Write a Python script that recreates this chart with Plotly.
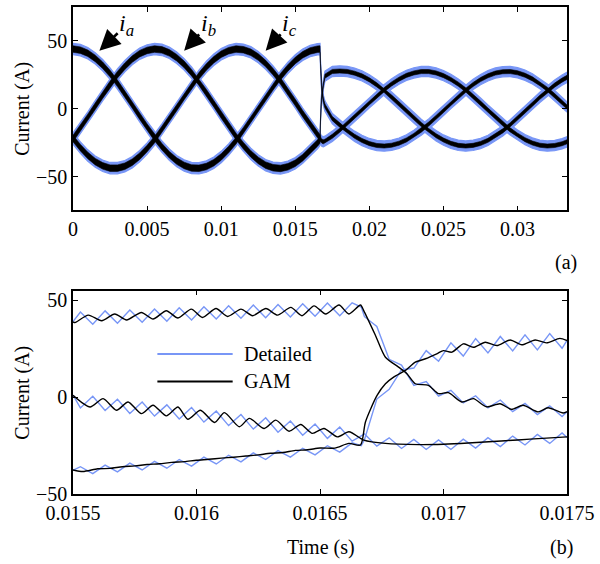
import plotly.graph_objects as go

# ---------------- (a) full view: band centres ----------------
t_top = [0, 0.0005, 0.001, 0.0015, 0.002, 0.0025, 0.003, 0.0035, 0.004, 0.0045,
         0.005, 0.0055, 0.006, 0.0065, 0.007, 0.0075, 0.008, 0.0085, 0.009, 0.0095,
         0.01, 0.0105, 0.011, 0.0115, 0.012, 0.0125, 0.013, 0.0135, 0.014, 0.0145,
         0.015, 0.0155, 0.016, 0.0165, 0.016667,
         0.0167, 0.01675, 0.0168, 0.0169, 0.017,
         0.0175, 0.018, 0.0185, 0.019, 0.0195, 0.02, 0.0205, 0.021, 0.0215, 0.022,
         0.0225, 0.023, 0.0235, 0.024, 0.0245, 0.025, 0.0255, 0.026, 0.0265, 0.027,
         0.0275, 0.028, 0.0285, 0.029, 0.0295, 0.03, 0.0305, 0.031, 0.0315, 0.032,
         0.0325, 0.033, 0.033333]
ia_top = [44.0, 43.2, 40.9, 37.1, 32.1, 25.9, 18.7, 10.9, 2.8, -5.5,
          -13.6, -21.2, -28.0, -33.9, -38.6, -41.8, -43.7, -43.9, -42.6, -39.8,
          -35.6, -30.1, -23.6, -16.2, -8.2, 0.0, 8.2, 16.2, 23.6, 30.1,
          35.6, 39.8, 42.6, 43.9, 44.0,
          32.0, 21.0, 13.0, 6.0, 2.0,
          -7.3, -12.1, -16.5, -20.3, -23.4, -25.7, -27.1, -27.5, -26.9, -25.4,
          -23.0, -19.7, -15.8, -11.3, -6.4, -1.3, 3.9, 8.9, 13.6, 17.9,
          21.5, 24.3, 26.3, 27.3, 27.4, 26.5, 24.7, 22.0, 18.5, 14.4,
          9.7, 4.7, 1.3]
ib_top = [-22.0, -14.5, -6.4, 1.8, 10.0, 17.9, 25.1, 31.4, 36.6, 40.6,
          43.0, 44.0, 43.4, 41.2, 37.6, 32.7, 26.6, 19.6, 11.8, 3.7,
          -4.6, -12.7, -20.4, -27.3, -33.3, -38.1, -41.6, -43.5, -44.0, -42.8,
          -40.2, -36.1, -31.0, -25.3, -23.0,
          -6.0, 4.5, 11.0, 18.5, 24.0,
          27.5, 27.8, 27.5, 26.2, 24.2, 21.3, 17.6, 13.4, 8.6, 3.6,
          -1.6, -6.7, -11.6, -16.0, -19.9, -23.1, -25.5, -27.0, -27.5, -27.0,
          -25.6, -23.3, -20.1, -16.3, -11.8, -7.0, -1.9, 3.3, 8.4, 13.1,
          17.4, 21.1, 23.1]
ic_top = [-22.0, -28.7, -34.5, -39.0, -42.1, -43.8, -43.8, -42.4, -39.4, -35.0,
          -29.4, -22.8, -15.3, -7.3, 0.9, 9.1, 17.1, 24.3, 30.8, 36.1,
          40.2, 42.8, 44.0, 43.5, 41.6, 38.1, 33.3, 27.3, 20.4, 12.7,
          4.6, -3.7, -11.8, -19.0, -21.5,
          -22.5, -23.5, -24.0, -24.3, -24.0,
          -20.3, -15.8, -10.8, -5.9, -0.7, 4.4, 9.5, 14.1, 18.3, 21.8,
          24.6, 26.4, 27.4, 27.4, 26.4, 24.4, 21.6, 18.1, 13.9, 9.2,
          4.2, -1.0, -6.1, -11.1, -15.6, -19.5, -22.8, -25.3, -26.9, -27.5,
          -27.1, -25.8, -24.4]
n_before_step = 35            # samples up to the load step at t = 1/60 s
ripple_gam_top = [2.4, 1.5]   # half width of GAM ripple band (before, after)
ripple_det_top = [4.2, 3.8]   # half width of Detailed ripple band (before, after)

# ---------------- (b) zoom: GAM (black) ----------------
tg_a = [0.015500, 0.015508, 0.015562, 0.015616, 0.015669, 0.015717, 0.015777, 0.015824, 0.015878, 0.015925,
        0.015979, 0.016024, 0.016079, 0.016126, 0.016180, 0.016227, 0.016281, 0.016328, 0.016382, 0.016427,
        0.016476, 0.016523, 0.016577, 0.016617, 0.016664, 0.016677, 0.016725, 0.016765, 0.016818, 0.016852,
        0.016886, 0.016939, 0.016980, 0.017020, 0.017074, 0.017121, 0.017174, 0.017229, 0.017275, 0.017322,
        0.017383, 0.017423, 0.017484, 0.017500]
vg_a = [38.8, 38.5, 42.3, 39.4, 42.9, 39.8, 43.7, 40.3, 44.6, 40.8,
        45.4, 41.1, 45.7, 41.6, 45.4, 42.0, 45.7, 42.3, 46.3, 42.0,
        47.1, 42.9, 47.5, 42.9, 47.5, 44.6, 31.7, 20.6, 15.5, 12.1,
        6.9, 6.1, 1.8, 2.3, -2.5, -0.8, -5.0, -3.4, -6.3, -4.2,
        -7.6, -5.5, -8.2, -7.5]
tg_b = [0.015500, 0.015540, 0.015600, 0.015650, 0.015700, 0.015750, 0.015800, 0.015850, 0.015900, 0.015950,
        0.016000, 0.016050, 0.016100, 0.016150, 0.016200, 0.016250, 0.016300, 0.016350, 0.016400, 0.016450,
        0.016500, 0.016560, 0.016617, 0.016664, 0.016684, 0.016731, 0.016765, 0.016798, 0.016846, 0.016886,
        0.016927, 0.016975, 0.017000, 0.017034, 0.017081, 0.017121, 0.017169, 0.017216, 0.017270, 0.017317,
        0.017371, 0.017417, 0.017471, 0.017500]
vg_b = [-37.6, -38.4, -37.0, -36.8, -35.9, -35.5, -34.8, -34.4, -33.7, -33.3,
        -32.6, -32.1, -31.5, -31.0, -30.4, -29.8, -29.0, -28.6, -27.5, -27.2,
        -26.3, -26.3, -23.9, -24.7, -12.8, 0.9, 6.9, 10.3, 13.8, 18.0,
        19.8, 22.5, 24.0, 23.2, 27.5, 25.7, 28.3, 26.6, 29.5, 27.0,
        29.5, 28.0, 30.3, 29.2]
tg_c = [0.015500, 0.015569, 0.015622, 0.015676, 0.015723, 0.015777, 0.015824, 0.015878, 0.015925, 0.015965,
        0.016016, 0.016073, 0.016113, 0.016173, 0.016214, 0.016274, 0.016321, 0.016375, 0.016422, 0.016469,
        0.016516, 0.016570, 0.016617, 0.016664, 0.016677, 0.016765, 0.016900, 0.017000, 0.017100, 0.017200,
        0.017300, 0.017400, 0.017500]
vg_c = [0.9, -5.1, -0.8, -6.8, -2.5, -8.5, -4.2, -9.7, -5.1, -11.4,
        -6.8, -13.1, -8.0, -15.3, -11.0, -16.2, -11.9, -17.6, -14.1, -18.7,
        -16.2, -20.5, -17.9, -21.3, -22.2, -23.9, -24.5, -24.3, -23.7, -22.9,
        -22.1, -21.3, -20.5]

# ---------------- (b) zoom: Detailed (blue) ----------------
tb = [0.0155, 0.01553, 0.01558, 0.01563, 0.01568, 0.01573, 0.01578, 0.01583, 0.01588, 0.01593,
      0.01598, 0.01603, 0.01608, 0.01613, 0.01618, 0.01623, 0.01628, 0.01633, 0.01638, 0.01643,
      0.01648, 0.01653, 0.01658, 0.01663, 0.016667, 0.01668, 0.01673, 0.01678, 0.01683, 0.01688,
      0.01693, 0.01698, 0.01703, 0.01708, 0.01713, 0.01718, 0.01723, 0.01728, 0.01733, 0.01738,
      0.01743, 0.01748, 0.0175]
vb_a = [39.0, 43.9, 37.6, 44.5, 38.1, 44.9, 38.6, 45.5, 39.2, 46.1,
        39.8, 46.6, 40.3, 47.1, 40.7, 47.5, 41.0, 47.8, 41.4, 48.2,
        41.7, 48.5, 42.0, 48.7, 46.5, 41.5, 36.5, 19.5, 16.5, 6.0,
        8.0, 0.5, 3.5, -3.0, 0.7, -5.5, -1.5, -7.5, -3.3, -9.0,
        -4.5, -10.0, -7.6]
vb_b = [-37.8, -35.9, -39.5, -35.1, -38.6, -34.1, -37.6, -33.2, -36.7, -32.2,
        -35.6, -31.0, -34.5, -30.0, -33.4, -28.8, -32.2, -27.6, -31.0, -26.4,
        -29.8, -25.1, -28.4, -23.6, -25.0, -22.0, -1.0, 4.0, 14.0, 15.0,
        24.0, 18.5, 28.0, 21.2, 30.2, 22.8, 31.3, 23.8, 32.1, 24.4,
        32.8, 25.2, 29.3]
vb_c = [1.0, -5.6, 0.4, -6.9, -1.1, -8.4, -2.5, -9.8, -4.0, -11.3,
        -5.4, -12.9, -7.2, -14.7, -9.0, -16.5, -10.7, -18.1, -12.3, -19.7,
        -13.9, -21.3, -15.4, -22.7, -20.0, -19.0, -25.3, -21.0, -26.5, -21.8,
        -27.0, -22.1, -27.0, -21.7, -26.3, -20.9, -25.5, -20.1, -24.7, -19.3,
        -23.9, -18.5, -20.8]

x_ticks_a = [0, 0.005, 0.01, 0.015, 0.02, 0.025, 0.03]
x_ticks_b = [0.0155, 0.016, 0.0165, 0.017, 0.0175]
y_ticks = [-50, 0, 50]

BLUE = "rgb(120,150,246)"
FONT = "Liberation Serif, Times New Roman, Times, serif"

fig = go.Figure()


def band(t, v, halfs):
    hw = [halfs[0]] * n_before_step + [halfs[1]] * (len(v) - n_before_step)
    up = [a + h for a, h in zip(v, hw)]
    lo = [a - h for a, h in zip(v, hw)]
    return list(t) + list(t)[::-1], up + lo[::-1]


for v in (ia_top, ib_top, ic_top):
    xs, ys = band(t_top, v, ripple_det_top)
    fig.add_trace(go.Scatter(x=xs, y=ys, mode="lines", fill="toself", fillcolor=BLUE,
                             line=dict(color=BLUE, width=1.2), xaxis="x", yaxis="y",
                             showlegend=False, hoverinfo="skip"))
for v in (ia_top, ib_top, ic_top):
    xs, ys = band(t_top, v, ripple_gam_top)
    fig.add_trace(go.Scatter(x=xs, y=ys, mode="lines", fill="toself", fillcolor="black",
                             line=dict(color="black", width=0.6), xaxis="x", yaxis="y",
                             showlegend=False, hoverinfo="skip"))

for v in (vb_a, vb_b, vb_c):
    fig.add_trace(go.Scatter(x=tb, y=v, mode="lines", line=dict(color=BLUE, width=1.4),
                             xaxis="x2", yaxis="y2", showlegend=False, hoverinfo="skip"))
for t, v in ((tg_a, vg_a), (tg_b, vg_b), (tg_c, vg_c)):
    fig.add_trace(go.Scatter(x=t, y=v, mode="lines",
                             line=dict(color="black", width=1.4, shape="spline", smoothing=0.7),
                             xaxis="x2", yaxis="y2", showlegend=False, hoverinfo="skip"))

axis_common = dict(showgrid=False, zeroline=False, showline=True, linecolor="black", linewidth=1.5,
                   mirror="ticks", ticks="inside", ticklen=5, tickwidth=1.2, tickcolor="black",
                   ticklabelstandoff=0, tickfont=dict(family=FONT, size=20, color="black"))


def fmt(v):
    s = ("%g" % v)
    return s.replace("-", "\u2212")


fig.update_layout(
    width=600, height=564, paper_bgcolor="white", plot_bgcolor="white",
    margin=dict(l=73, r=31, t=5, b=70),
    font=dict(family=FONT, size=20, color="black"),
    xaxis=dict(domain=[0, 1], anchor="y", range=[0, 0.033333],
               tickvals=x_ticks_a, ticktext=[fmt(v) for v in x_ticks_a], **axis_common),
    yaxis=dict(domain=[0.5822, 1], anchor="x", range=[-75, 75],
               tickvals=y_ticks, ticktext=[fmt(v) for v in y_ticks], **axis_common),
    xaxis2=dict(domain=[0, 1], anchor="y2", range=[0.0155, 0.0175],
                tickvals=x_ticks_b, ticktext=[fmt(v) for v in x_ticks_b], **axis_common),
    yaxis2=dict(domain=[0, 0.4178], anchor="x2", range=[-50, 55],
                tickvals=y_ticks, ticktext=[fmt(v) for v in y_ticks], **axis_common),
)

ann = []
for lab, (hx, hy, tx, ty) in zip(["a", "b", "c"],
                                 [(0.00178, 42.7, 0.00362, 62.0),
                                  (0.00750, 42.7, 0.00912, 62.0),
                                  (0.01300, 42.7, 0.01462, 62.0)]):
    ann.append(dict(x=hx, y=hy, ax=tx, ay=ty, xref="x", yref="y", axref="x", ayref="y",
                    text="<i>i</i><sub><i>%s</i></sub>" % lab, showarrow=True,
                    arrowhead=2, arrowsize=1.6, arrowwidth=2.6, arrowcolor="black", standoff=0,
                    font=dict(family=FONT, size=24, color="black")))
for yc in (0.7914, 0.2086):
    ann.append(dict(x=-0.1028, y=yc, xref="paper", yref="paper", text="Current (A)",
                    textangle=-90, showarrow=False, xanchor="center", yanchor="middle",
                    font=dict(family=FONT, size=20)))
for txt, xp, yp in (("(a)", 0.998, 0.4744), ("(b)", 0.988, -0.1104), ("Time (s)", 0.502, -0.1104)):
    ann.append(dict(x=xp, y=yp, xref="paper", yref="paper", text=txt, showarrow=False,
                    xanchor="center", yanchor="middle", font=dict(family=FONT, size=20)))
for txt, yp in (("Detailed", 0.2877), ("GAM", 0.2311)):
    ann.append(dict(x=0.3427, y=yp, xref="paper", yref="paper", text=txt, showarrow=False,
                    xanchor="left", yanchor="middle", font=dict(family=FONT, size=20)))
fig.update_layout(annotations=ann)

fig.add_shape(type="line", xref="paper", yref="paper", x0=0.1708, x1=0.3232, y0=0.2877, y1=0.2877,
              line=dict(color=BLUE, width=2))
fig.add_shape(type="line", xref="paper", yref="paper", x0=0.1708, x1=0.3232, y0=0.2311, y1=0.2311,
              line=dict(color="black", width=2))

fig.write_html("out.html")
